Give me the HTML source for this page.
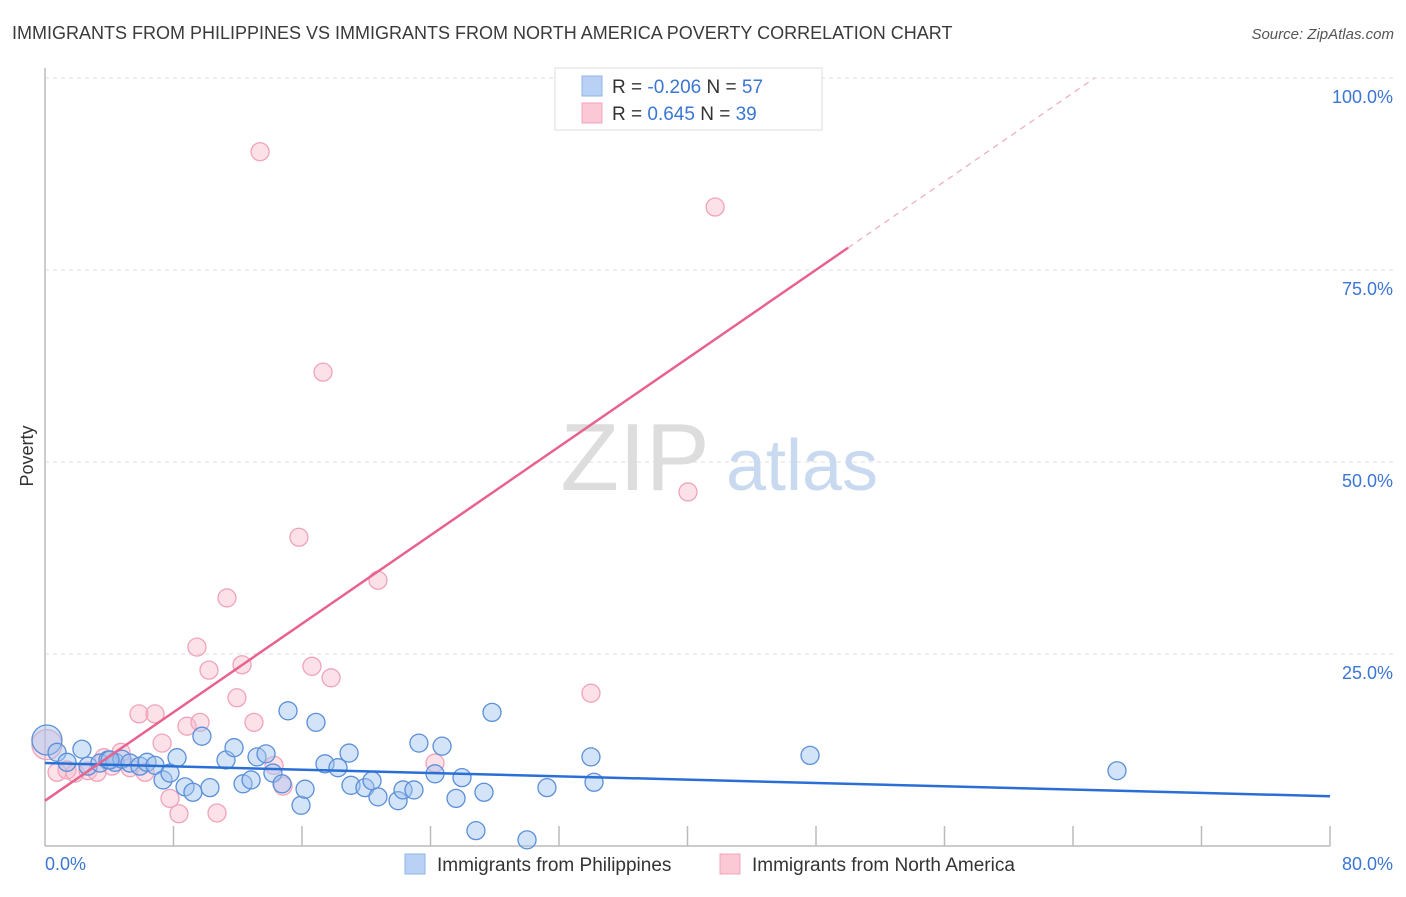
<!DOCTYPE html>
<html><head><meta charset="utf-8"><style>
body{margin:0;background:#fff;}
svg text{font-family:"Liberation Sans",sans-serif;}
</style></head><body>
<svg id="chart" width="1406" height="892" xmlns="http://www.w3.org/2000/svg">
<text x="12" y="39" font-size="18" fill="#3a3a3a">IMMIGRANTS FROM PHILIPPINES VS IMMIGRANTS FROM NORTH AMERICA POVERTY CORRELATION CHART</text>
<text x="1394" y="39" font-size="15" font-style="italic" fill="#555" text-anchor="end">Source: ZipAtlas.com</text>
<g id="grid"></g>
<g>
<text x="635" y="490" font-size="96" font-family="Liberation Serif,serif" fill="#ddd" text-anchor="middle">ZIP</text>
<text x="802" y="490" font-size="72" fill="#c8d9f0" text-anchor="middle">atlas</text>
</g>
<line x1="45" y1="68" x2="45" y2="846" stroke="#bbb" stroke-width="1.5"/>
<line x1="45" y1="846" x2="1330" y2="846" stroke="#bbb" stroke-width="1.5"/>
<g id="xticks"></g>
<g id="ylabels"></g>
<text x="45" y="870" font-size="18" fill="#3b76d4">0.0%</text>
<text x="1393" y="870" font-size="18" fill="#3b76d4" text-anchor="end">80.0%</text>
<text x="33" y="456" font-size="18" fill="#333" text-anchor="middle" transform="rotate(-90 33 456)">Poverty</text>
<g id="pinkpts"></g>
<g id="bluepts"></g>
<g id="trends"></g>
<g>
<rect x="555" y="68" width="267" height="62" fill="#fff" stroke="#ddd"/>
<rect x="582" y="76" width="20" height="20" fill="#b9d1f5" stroke="#8fb3e8"/>
<rect x="582" y="103" width="20" height="20" fill="#fbc8d6" stroke="#f2a5bb"/>
<text x="612" y="93" font-size="19" fill="#333">R = <tspan fill="#3b76d4">-0.206</tspan>   N = <tspan fill="#3b76d4">57</tspan></text>
<text x="612" y="120" font-size="19" fill="#333">R =   <tspan fill="#3b76d4">0.645</tspan>   N = <tspan fill="#3b76d4">39</tspan></text>
</g>
<g>
<rect x="405" y="854" width="20" height="20" fill="#b9d1f5" stroke="#8fb3e8"/>
<text x="437" y="871" font-size="19" fill="#333">Immigrants from Philippines</text>
<rect x="720" y="854" width="20" height="20" fill="#fbc8d6" stroke="#f2a5bb"/>
<text x="752" y="871" font-size="19" fill="#333">Immigrants from North America</text>
</g>
</svg>
<script>
const yTicks=[25,50,75,100];
const yTickLabels=["25.0%","50.0%","75.0%","100.0%"];
const xTicks=[8,16,24,32,40,48,56,64,72,80];
const blueX=[0.12,0.75,2.30,1.37,2.68,3.42,3.92,4.36,4.79,5.29,5.91,6.35,6.85,7.35,7.78,8.22,8.72,9.21,9.77,10.27,11.27,11.77,12.33,12.83,13.20,13.76,14.19,14.76,15.13,15.94,16.19,16.87,17.43,18.24,18.93,19.05,19.92,20.36,20.73,21.98,22.29,22.97,23.28,24.28,24.72,25.59,25.96,26.83,27.33,27.83,30.01,31.25,33.99,34.18,47.63,66.74,4.05];
const blueY=[13.8,12.2,12.6,10.9,10.4,10.8,11.2,10.9,11.3,10.8,10.4,10.9,10.5,8.6,9.5,11.5,7.7,7.0,14.3,7.6,11.2,12.8,8.1,8.6,11.6,12.0,9.5,8.1,17.6,5.3,7.4,16.1,10.7,10.2,12.1,7.9,7.6,8.5,6.4,5.9,7.3,7.3,13.4,9.4,13.0,6.2,8.9,2.0,7.0,17.4,0.8,7.6,11.6,8.3,11.8,9.8,11.2];
const pinkX=[0.12,0.75,1.37,1.87,2.68,3.24,3.67,4.17,4.73,5.29,5.85,6.23,6.85,7.29,7.78,8.34,8.84,9.46,9.65,10.21,10.71,11.33,11.95,12.27,13.01,13.39,14.26,14.82,15.81,16.62,17.31,17.81,20.73,24.28,33.99,40.03,41.72,33.18];
const pinkY=[13.2,9.6,9.9,9.5,9.8,9.6,11.5,10.4,12.2,10.2,17.2,9.6,17.2,13.4,6.2,4.2,15.6,25.9,16.1,22.9,4.3,32.3,19.3,23.6,16.1,90.4,10.5,7.8,40.2,23.4,61.7,21.9,34.6,10.8,19.9,46.1,83.2,99.7];
const blueTrend=[10.8,-0.054]; // intercept, slope
const pinkTrend=[5.9,1.44];
const NS="http://www.w3.org/2000/svg";
const sx=v=>45+v/80*1285, sy=v=>846-v/100*768;
function mk(t,a,p){const e=document.createElementNS(NS,t);for(const k in a)e.setAttribute(k,a[k]);p.appendChild(e);return e;}
const grid=document.getElementById('grid'),yl=document.getElementById('ylabels'),xt=document.getElementById('xticks');
yTicks.forEach((v,i)=>{
 const l=mk('line',{x1:45,x2:1393,y1:sy(v),y2:sy(v),stroke:'#ddd','stroke-dasharray':'4,4'},grid);
 
 
 const t=mk('text',{x:1393,y:sy(v)+25,'font-size':18,fill:'#3b76d4','text-anchor':'end'},yl);
 t.textContent=yTickLabels[i];
 
 
});
xTicks.forEach(v=>{
 const l=mk('line',{x1:sx(v),x2:sx(v),y1:826,y2:846,stroke:'#bbb','stroke-width':1.5},xt);
 
 
});
const pg=document.getElementById('pinkpts'),bg=document.getElementById('bluepts');
pinkX.forEach((x,i)=>{
 const c=mk('circle',{cx:sx(x),cy:sy(pinkY[i]),r:i==0?15:9,fill:'rgba(248,180,200,0.4)',stroke:'#f0a3ba','stroke-width':1.3},pg);
 
 
});
blueX.forEach((x,i)=>{
 const c=mk('circle',{cx:sx(x),cy:sy(blueY[i]),r:i==0?15:9,fill:'rgba(160,196,240,0.45)',stroke:'#5b8fd9','stroke-width':1.3},bg);
 
 
});
const tr=document.getElementById('trends');
const b=mk('line',{x1:sx(0),y1:sy(blueTrend[0]),x2:sx(80),y2:sy(blueTrend[0]+blueTrend[1]*80),stroke:'#2a6fd6','stroke-width':2.5},tr);


const xe=50, xd=(100-pinkTrend[0])/pinkTrend[1];
const p=mk('line',{x1:sx(0),y1:sy(pinkTrend[0]),x2:sx(xe),y2:sy(pinkTrend[0]+pinkTrend[1]*xe),stroke:'#e8628e','stroke-width':2.5},tr);


const pd=mk('line',{x1:sx(xe),y1:sy(pinkTrend[0]+pinkTrend[1]*xe),x2:sx(xd),y2:sy(100),stroke:'#eeaabf','stroke-width':1.2,'stroke-dasharray':'6,5'},tr);


</script>
</body></html>
